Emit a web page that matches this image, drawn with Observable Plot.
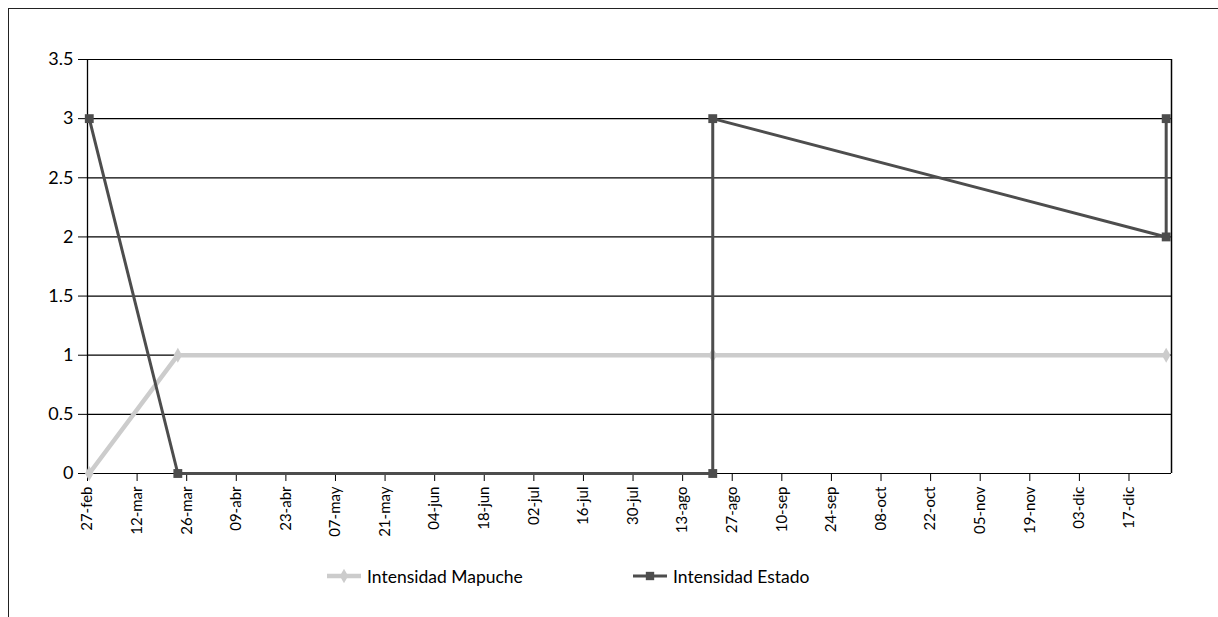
<!DOCTYPE html>
<html>
<head>
<meta charset="utf-8">
<script src="https://cdn.jsdelivr.net/npm/d3@7"></script>
<script src="https://cdn.jsdelivr.net/npm/@observablehq/plot@0.6"></script>
<style>
  body { margin: 0; width: 1218px; height: 617px; overflow: hidden; position: relative; background: #fff; font-family: Lato, "Open Sans", sans-serif; }
  #frame { position: absolute; left: 8px; top: 8px; width: 1400px; height: 800px; border: 1.5px solid #222; box-sizing: border-box; }
  #chart { position: absolute; left: 0; top: 0; }
  #legend { position: absolute; left: 0; top: 562px; width: 1218px; height: 28px; }
  .item { position: absolute; top: 0; display: flex; align-items: center; font-size: 17.5px; color: #000; height: 28px; }
  .item svg { margin-right: 6px; }
</style>
</head>
<body>
<div id="frame"></div>
<div id="chart"></div>
<div id="legend"></div>
<script>
// ---- data ----
const seriesNames = ["Intensidad Mapuche", "Intensidad Estado"];
const mapucheDates = ["2008-02-27", "2008-03-23", "2008-08-21", "2008-12-27"];
const mapucheValues = [0, 1, 1, 1];
const estadoDates = ["2008-02-27", "2008-03-23", "2008-08-21", "2008-08-21", "2008-12-27", "2008-12-27"];
const estadoValues = [3, 0, 0, 3, 2, 3];
const tickDates = ["2008-02-27", "2008-03-12", "2008-03-26", "2008-04-09", "2008-04-23", "2008-05-07",
  "2008-05-21", "2008-06-04", "2008-06-18", "2008-07-02", "2008-07-16", "2008-07-30", "2008-08-13",
  "2008-08-27", "2008-09-10", "2008-09-24", "2008-10-08", "2008-10-22", "2008-11-05", "2008-11-19",
  "2008-12-03", "2008-12-17"];
const tickLabels = ["27-feb", "12-mar", "26-mar", "09-abr", "23-abr", "07-may", "21-may", "04-jun",
  "18-jun", "02-jul", "16-jul", "30-jul", "13-ago", "27-ago", "10-sep", "24-sep", "08-oct", "22-oct",
  "05-nov", "19-nov", "03-dic", "17-dic"];
const yTicks = [0, 0.5, 1, 1.5, 2, 2.5, 3, 3.5];
const xDomain = ["2008-02-27", "2008-12-29"];

// ---- build ----
const parse = d3.timeParse("%Y-%m-%d");
const mapuche = mapucheDates.map((d, i) => ({date: parse(d), value: mapucheValues[i]}));
const estado = estadoDates.map((d, i) => ({date: parse(d), value: estadoValues[i]}));
const ticks = tickDates.map(parse);
const labelByTime = new Map(ticks.map((d, i) => [+d, tickLabels[i]]));
const domain = xDomain.map(parse);
const mid = d => d3.timeHour.offset(d.date, 12);

const colMap = "#cccccc";
const colEst = "#4d4d4d";

const chart = Plot.plot({
  width: 1218,
  height: 545,
  marginLeft: 87,
  marginRight: 47,
  marginTop: 59,
  marginBottom: 72,
  style: {background: "transparent", fontFamily: "Lato, 'Open Sans', sans-serif", color: "#000"},
  x: {type: "time", domain: domain},
  y: {domain: [0, 3.5]},
  marks: [
    Plot.gridY(yTicks, {stroke: "#000", strokeOpacity: 1, strokeWidth: 1.2}),
    Plot.ruleX([domain[0]], {stroke: "#000", strokeWidth: 1.3}),
    Plot.ruleX([domain[1]], {stroke: "#000", strokeWidth: 1.5}),
    Plot.axisY({ticks: yTicks, tickFormat: d => String(d), tickSize: 9, tickPadding: 5, fontSize: 18, label: null, stroke: "#000"}),
    Plot.axisX({ticks: ticks, tickFormat: d => labelByTime.get(+d), tickRotate: -90, tickSize: 8, tickPadding: 5, fontSize: 15, label: null, stroke: "#000"}),
    Plot.line(mapuche, {x: mid, y: "value", stroke: colMap, strokeWidth: 4.5, strokeLinejoin: "round"}),
    Plot.dot(mapuche, {x: mid, y: "value", symbol: "diamond", r: 4.5, fill: colMap, stroke: "none"}),
    Plot.line(estado, {x: mid, y: "value", stroke: colEst, strokeWidth: 3, strokeLinejoin: "miter"}),
    Plot.dot(estado, {x: mid, y: "value", symbol: "square", r: 5, fill: colEst, stroke: "none"})
  ]
});
document.getElementById("chart").appendChild(chart);

// ---- legend ----
const legend = d3.select("#legend");
const items = [
  {name: seriesNames[0], color: colMap, symbol: "diamond", left: 327, w: 4.5},
  {name: seriesNames[1], color: colEst, symbol: "square", left: 633, w: 3}
];
items.forEach(it => {
  const div = legend.append("div").attr("class", "item").style("left", it.left + "px");
  const svg = div.append("svg").attr("width", 34).attr("height", 14);
  svg.append("line").attr("x1", 0).attr("x2", 34).attr("y1", 7).attr("y2", 7)
    .attr("stroke", it.color).attr("stroke-width", it.w);
  const sym = it.symbol === "diamond" ? d3.symbolDiamond : d3.symbolSquare;
  svg.append("path").attr("transform", "translate(17,7)")
    .attr("d", d3.symbol(sym, it.symbol === "diamond" ? 60 : 70)())
    .attr("fill", it.color);
  div.append("span").text(it.name);
});
</script>
</body>
</html>
